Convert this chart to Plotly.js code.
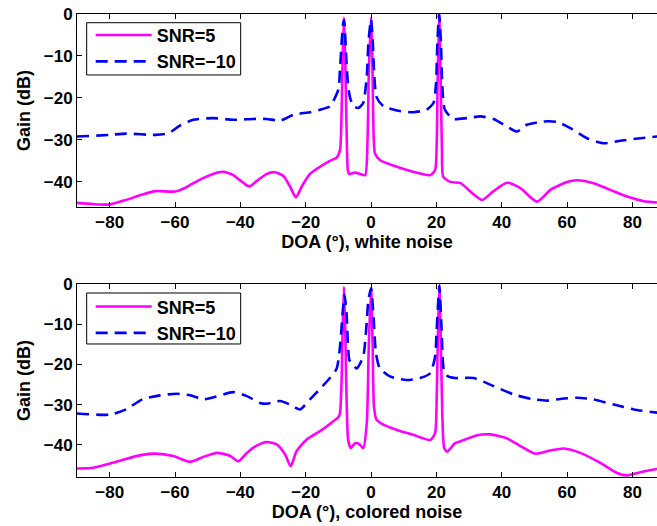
<!DOCTYPE html>
<html>
<head>
<meta charset="utf-8">
<script src="https://cdn.plot.ly/plotly-3.0.1.min.js"></script>
<style>html,body{margin:0;padding:0;background:#fff;}#chart{width:657px;height:526px;}</style>
</head>
<body>
<div id="chart"></div>
<script>
// ---- Data (DOA in degrees, gain in dB) ----
var seriesNames = ["SNR=5", "SNR=\u221210"];
var xTitleTop = "DOA (\u00B0), white noise";
var xTitleBottom = "DOA (\u00B0), colored noise";
var yTitle = "Gain (dB)";
var xTicks = [-80, -60, -40, -20, 0, 20, 40, 60, 80];
var yTicks = [0, -10, -20, -30, -40];

// White noise, SNR=5
var whiteSnr5X = [-90,-85,-80,-75,-70,-66,-60,-56.6,-52.5,-48.4,-45.3,-42.2,-39.1,-37.2,-35,-31.9,-29.4,-26.8,-24.8,-23,-21.2,-18.7,-15.6,-12.6,-10.5,-9.5,-9.0,-8.7,-8.3,-7.9,-7.5,-7.1,-6.7,-4.9,-3.4,-1.8,-1.1,-0.7,0,0.4,0.8,1.2,2.7,7.9,12.9,18.1,19.6,20.1,20.4,20.85,21.3,21.7,22.1,24.2,27.4,30.4,34,37.5,41.6,45.7,50.8,54.9,60,63.1,68.1,73.2,78.4,83.5,87.5,90];
var whiteSnr5Y = [-45.0,-45.3,-45.4,-44.3,-43.0,-42.2,-42.3,-41.3,-39.5,-38.1,-37.6,-38.4,-40.2,-41.1,-39.8,-38.1,-37.7,-38.6,-41.1,-43.7,-41.1,-38.1,-36.4,-35.0,-34.2,-32.4,-22.8,-10.8,-0.8,-10.8,-26.8,-37.2,-38.1,-37.8,-38.1,-38.4,-30.8,-14.8,-0.8,-10.8,-29.2,-33.2,-34.8,-36.4,-37.6,-38.4,-37.2,-30.8,-14.8,0,-14.8,-32.4,-38.8,-40.0,-40.3,-42.3,-44.3,-42.2,-40.2,-41.5,-44.7,-41.9,-40.0,-39.6,-40.3,-41.9,-43.5,-44.6,-44.9,-45.0];

// White noise, SNR=-10
var whiteSnrM10X = [-90,-80,-75,-66,-62,-58.5,-54.4,-48.4,-42.2,-36.1,-32,-27.8,-23.7,-18.7,-15.6,-12.6,-10,-9.5,-9.0,-8.5,-8.2,-8.0,-7.5,-7.0,-6.4,-5.4,-3.9,-2.4,-1.3,-0.8,0,0.5,1.0,1.7,3.8,7.9,12.9,17,19.1,19.9,20.3,20.85,21.4,21.8,22.6,25.2,29.4,33.5,37.5,41.6,44.7,47.7,52.8,56.9,61,66.1,71.2,76.3,82.4,87.5,90];
var whiteSnrM10Y = [-29.2,-28.8,-28.5,-28.8,-28.4,-26.6,-25.2,-24.8,-25.2,-25.0,-25.0,-25.4,-24.0,-23.4,-22.8,-22.0,-18.0,-13.2,-6.8,-2.1,-1.5,-3.7,-11.6,-17.2,-20.0,-22.0,-22.4,-21.2,-14.8,-6.8,-1.3,-6.1,-14.8,-19.8,-22.0,-23.0,-23.4,-22.8,-21.2,-16.4,-6.8,0,-6.8,-17.2,-22.8,-25.0,-24.8,-24.4,-25.0,-26.8,-28.0,-26.4,-25.6,-25.7,-27.2,-29.6,-30.8,-30.2,-29.6,-29.2,-29.0];

// Colored noise, SNR=5
var colorSnr5X = [-90,-85,-80,-75,-70,-66,-60.5,-55.4,-51.3,-47.2,-43.2,-40.6,-38,-35,-31.9,-28.9,-26.3,-24.6,-22.8,-19.7,-15.6,-12.6,-9.9,-9.5,-9.0,-8.7,-8.3,-7.9,-7.5,-7.0,-6.2,-4.9,-3.6,-2.4,-1.3,-0.7,0,0.5,0.9,1.7,3.8,7.9,12.9,18.1,19.6,20.1,20.4,20.9,21.4,21.8,22.4,23.3,25.7,27.4,32.5,36.5,41.6,45.7,50.3,54.9,59,64.1,70.2,75.3,78.4,82.4,87.5,90];
var colorSnr5Y = [-45.9,-45.7,-44.7,-43.5,-42.5,-42.2,-42.8,-44.2,-43.0,-42.0,-42.7,-44.1,-42.0,-40.2,-39.3,-39.9,-42.4,-45.3,-41.6,-38.7,-36.6,-34.8,-33.0,-32.1,-23.9,-11.4,-0.7,-11.4,-28.0,-38.8,-40.8,-39.6,-39.8,-40.8,-34.6,-15.6,-1.1,-15.6,-30.5,-33.8,-35.0,-36.3,-37.5,-38.8,-37.1,-28.0,-15.6,-0.2,-15.6,-32,-40.8,-41.7,-39.6,-39.1,-37.6,-37.4,-38.4,-40.3,-42.2,-41.4,-40.9,-42.0,-44.5,-47.0,-47.6,-46.8,-46.0,-45.7];

// Colored noise, SNR=-10
var colorSnrM10X = [-90,-80,-75,-70,-64.6,-59.5,-55.4,-51.3,-48.2,-42.2,-38,-34,-31.9,-27.8,-24.8,-21.7,-18.7,-15.6,-12.6,-10.5,-9.5,-8.7,-8.1,-7.5,-6.65,-5.9,-4.4,-2.4,-1.5,-0.8,0,0.7,1.5,2.7,5.8,10.9,15,18.1,19.6,20.1,20.9,21.6,22.3,23.6,25.7,31.4,37.5,43.7,49.8,53.9,57.9,63.1,68.1,74.3,80.4,87.5,90];
var colorSnrM10Y = [-32.2,-32.5,-31.2,-28.7,-27.7,-27.3,-27.7,-28.7,-28.2,-26.9,-27.9,-29.6,-29.8,-29.1,-30.0,-31.2,-28.7,-26.1,-23.4,-21.0,-15.6,-7.3,-2.7,-7.3,-18.9,-19.7,-21.0,-18.1,-11.4,-4.0,-1.1,-7.3,-17.2,-21.0,-23.0,-23.9,-23.4,-22.2,-18.1,-11.4,-0.5,-11.4,-21.4,-23.0,-23.4,-23.4,-25.4,-27.5,-28.7,-29.0,-28.6,-28.3,-28.7,-30.0,-31.2,-32.0,-32.3];

// ---- Styles ----
var FONT = "'Liberation Sans', Arial, Helvetica, sans-serif";
var magenta = "#ff00ff", blue = "#0000ff";
var solidLine = {color: magenta, width: 2.6, shape: "spline", smoothing: 0.6};
var dashLine = {color: blue, width: 2.6, dash: "12px,7px", shape: "spline", smoothing: 0.6};

var traces = [
  {x: whiteSnr5X, y: whiteSnr5Y, name: seriesNames[0], mode: "lines", line: solidLine, xaxis: "x", yaxis: "y", legend: "legend"},
  {x: whiteSnrM10X, y: whiteSnrM10Y, name: seriesNames[1], mode: "lines", line: dashLine, xaxis: "x", yaxis: "y", legend: "legend"},
  {x: colorSnr5X, y: colorSnr5Y, name: seriesNames[0], mode: "lines", line: solidLine, xaxis: "x2", yaxis: "y2", legend: "legend2"},
  {x: colorSnrM10X, y: colorSnrM10Y, name: seriesNames[1], mode: "lines", line: dashLine, xaxis: "x2", yaxis: "y2", legend: "legend2"}
];

var tickFont = {family: FONT, size: 17, color: "#000", weight: "bold"};
var titleFont = {family: FONT, size: 18, color: "#000", weight: "bold"};
function xAxis(anchor, title) {
  return {
    anchor: anchor, domain: [0, 1], range: [-90, 87.53],
    tickvals: xTicks, ticks: "inside", ticklen: 5, tickcolor: "#000",
    showline: true, linecolor: "#000", linewidth: 1, mirror: "ticks",
    showgrid: false, zeroline: false, tickfont: tickFont,
    title: {text: title, font: titleFont, standoff: 3}
  };
}
function yAxis(anchor, domain, range) {
  return {
    anchor: anchor, domain: domain, range: range,
    tickvals: yTicks, ticks: "inside", ticklen: 5, tickcolor: "#000",
    showline: true, linecolor: "#000", linewidth: 1, mirror: false,
    showgrid: false, zeroline: false, tickfont: tickFont,
    title: {text: yTitle, font: titleFont, standoff: 8}
  };
}
function legendCfg(y) {
  return {
    x: 0.0236, y: y, xanchor: "left", yanchor: "top",
    bgcolor: "rgba(0,0,0,0)", borderwidth: 0,
    font: titleFont,
    itemwidth: 56, tracegroupgap: 0
  };
}
function legendBox(y0, y1) {
  return {type: "rect", xref: "paper", yref: "paper", x0: 0.0167, x1: 0.2822, y0: y0, y1: y1,
          line: {color: "#000", width: 1}, fillcolor: "#fff", layer: "above"};
}

var layout = {
  width: 657, height: 526,
  margin: {l: 77, r: 0, t: 14, b: 49},
  paper_bgcolor: "#fff", plot_bgcolor: "#fff",
  showlegend: true,
  xaxis: xAxis("y", xTitleTop),
  yaxis: yAxis("x", [0.583, 1], [-46, 0]),
  xaxis2: xAxis("y2", xTitleBottom),
  yaxis2: yAxis("x2", [0, 0.417], [-48, 0]),
  legend: legendCfg(0.994),
  legend2: legendCfg(0.4076),
  shapes: [legendBox(0.8683, 0.9812), legendBox(0.2873, 0.3974)]
};

Plotly.newPlot("chart", traces, layout, {displayModeBar: false, staticPlot: true});
</script>
</body>
</html>
